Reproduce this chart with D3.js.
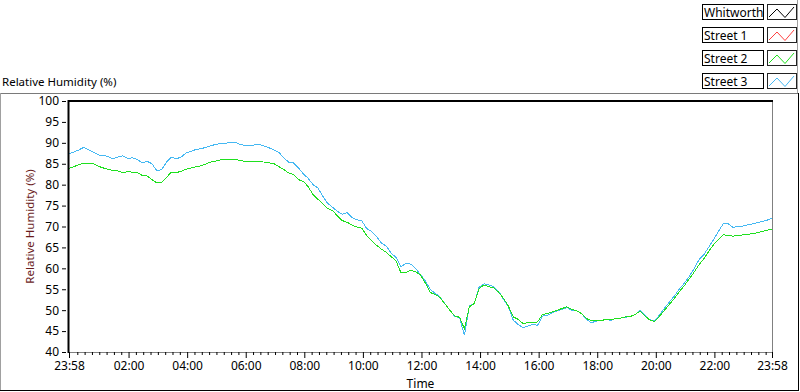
<!DOCTYPE html>
<html>
<head>
<meta charset="utf-8">
<script src="https://cdn.jsdelivr.net/npm/d3@7"></script>
<style>
body{margin:0;background:#fff}
svg text{font-family:"Noto Sans",sans-serif;font-size:12px}
</style>
</head>
<body>
<svg></svg>
<script>
// series shown in the legend (Whitworth and Street 1 have no visible trace)
var seriesNames = ["Whitworth","Street 1","Street 2","Street 3"]
var seriesColors = ["#000000","#ff4040","#1fe01f","#45b8f2"]

// samples every 10 minutes from 23:58 to 23:58 next day
var startTime = new Date(2000,0,1,23,58)
var endTime = new Date(2000,0,2,23,58)
var stepMinutes = 10

var whitworth = []
var street1 = []
var street2 = [
83.9,84.3,84.8,85.1,85.1,85.0,84.4,84.0,83.7,83.4,
83.3,82.9,83.1,83.0,82.9,82.2,82.1,81.2,80.4,80.6,
81.8,83.0,82.9,83.2,83.7,84.0,84.3,84.5,84.9,85.4,
85.6,85.9,85.9,86.0,86.1,85.8,85.6,85.5,85.5,85.5,
85.4,85.2,85.0,84.3,83.6,82.8,82.4,81.2,80.8,79.5,
77.6,76.5,75.4,74.3,73.8,72.5,71.4,71.0,70.3,69.9,
69.6,67.8,66.6,65.5,64.6,63.8,62.8,61.8,58.9,59.0,
59.5,59.2,58.4,56.5,54.2,53.8,53.0,51.5,50.0,48.6,
48.3,45.5,50.8,51.6,55.2,56.0,55.6,55.3,54.3,52.8,
51.0,48.4,47.8,46.8,47.0,47.0,47.2,49.0,49.2,49.6,
50.0,50.4,50.8,50.2,49.8,49.2,48.0,47.5,47.6,47.6,
47.7,47.7,48.0,48.1,48.4,48.5,49.0,49.8,48.6,47.6,
47.3,48.6,50.0,51.4,52.8,54.4,55.8,57.4,59.0,60.8,
62.2,64.0,65.6,66.8,68.0,67.9,67.7,67.8,68.0,68.1,
68.3,68.5,68.8,69.1,69.4]
var street3 = [
87.4,87.8,88.3,88.9,88.3,87.8,87.1,87.0,86.7,86.2,
86.6,86.9,86.3,86.4,86.0,85.2,85.6,85.0,83.3,83.6,
85.4,86.6,86.2,86.6,87.6,88.0,88.4,88.6,88.9,89.3,
89.6,89.8,89.9,90.1,90.2,89.6,89.4,89.4,89.5,89.6,
89.2,88.8,88.3,87.7,86.4,85.4,85.2,84.0,82.6,81.5,
80.0,79.2,77.2,75.5,74.6,73.6,72.9,73.3,72.1,71.6,
71.3,69.5,68.8,67.6,66.0,65.3,63.6,62.6,60.4,61.2,
61.0,60.0,58.5,57.0,55.0,54.0,53.2,51.5,50.0,48.5,
48.2,44.0,51.0,51.5,55.5,56.3,56.0,55.6,54.5,52.6,
50.8,47.6,46.6,45.8,46.2,46.6,46.4,48.6,48.8,49.4,
49.8,50.2,50.6,50.0,49.8,49.2,47.8,47.0,47.4,47.6,
47.7,47.6,48.0,48.1,48.3,48.5,49.0,50.0,48.8,47.7,
47.4,49.0,50.5,52.0,53.4,55.0,56.4,58.0,59.8,62.0,
63.2,65.0,66.8,68.8,70.6,70.7,69.8,70.0,70.1,70.4,
70.6,70.9,71.2,71.5,72.0]

var yTicks = [40,45,50,55,60,65,70,75,80,85,90,95,100]
var xMajorHours = [2,4,6,8,10,12,14,16,18,20,22]

var allSeries = [whitworth,street1,street2,street3]

var screen = {width:800,height:392}
var plot = {left:69,top:101,right:772,bottom:352}

var svg = d3.select("svg")
    .attr("width",screen.width)
    .attr("height",screen.height)

// panel frame
svg.append("line").attr("x1",0).attr("x2",798).attr("y1",93.5).attr("y2",93.5).attr("stroke","#7a7a7a")
svg.append("line").attr("x1",0.5).attr("x2",0.5).attr("y1",93).attr("y2",391).attr("stroke","#a0a0a0")
svg.append("line").attr("x1",798.5).attr("x2",798.5).attr("y1",93).attr("y2",391).attr("stroke","#000")
svg.append("line").attr("x1",0).attr("x2",799).attr("y1",390.5).attr("y2",390.5).attr("stroke","#000")
svg.append("line").attr("x1",797.5).attr("x2",797.5).attr("y1",0).attr("y2",93).attr("stroke","#a0a0a0")

svg.append("text")
    .attr("x",2)
    .attr("y",86)
    .style("font-size","11.5px")
    .text("Relative Humidity (%)")

var width = plot.right - plot.left
var height = plot.bottom - plot.top

var xScale = d3.scaleTime().domain([startTime,endTime]).range([0,width])
var yScale = d3.scaleLinear().domain([40,100]).range([height,0])

var timeOf = function(d,i)
{
    return d3.timeMinute.offset(startTime,i*stepMinutes)
}

// minor ticks every 15 minutes, away from the major ones
var majorDates = [startTime].concat(xMajorHours.map(function(h){ return new Date(2000,0,2,h,0) })).concat([endTime])
var minorDates = d3.timeMinute.every(15).range(startTime,endTime).filter(function(d)
{
    return majorDates.every(function(m){ return Math.abs(m-d) > 5*60000 })
})

var graph = svg.append("g")
    .attr("id","graph")
    .attr("transform","translate("+plot.left+","+plot.top+")")

// plot area borders
graph.append("line").attr("x1",width+0.5).attr("x2",width+0.5).attr("y1",0).attr("y2",height+1).attr("stroke","#808080")
graph.append("line").attr("x1",0).attr("x2",width+1).attr("y1",height+0.5).attr("y2",height+0.5).attr("stroke","#808080")

var lineGenerator = d3.line()
    .x(function(v,i){ return xScale(timeOf(v,i)) })
    .y(function(v){ return yScale(v) })

graph.selectAll("path.series")
    .data(allSeries.map(function(s,i){ return {values:s,color:seriesColors[i]} }).slice().reverse())
    .enter()
    .append("path")
    .attr("class","series")
    .attr("fill","none")
    .attr("stroke",function(d){ return d.color })
    .attr("stroke-width",1)
    .attr("shape-rendering","crispEdges")
    .attr("d",function(d){ return d.values.length ? lineGenerator(d.values) : null })

graph.append("line").attr("x1",-0.5).attr("x2",width+1).attr("y1",0).attr("y2",0).attr("stroke","#000").attr("stroke-width",2)
graph.append("line").attr("x1",-0.5).attr("x2",-0.5).attr("y1",-1).attr("y2",height+1).attr("stroke","#000").attr("stroke-width",2)

// y axis
var yAxis = d3.axisLeft(yScale).tickValues(yTicks).tickSize(4).tickPadding(3)
var yg = svg.append("g")
    .attr("transform","translate("+(plot.left-3)+","+plot.top+")")
    .call(yAxis)
yg.select(".domain").remove()
yg.selectAll("text").style("font-size","12px").style("font-family","'Noto Sans',sans-serif").attr("fill","#000")

// x axis
var xAxis = d3.axisBottom(xScale).tickValues(majorDates).tickFormat(d3.timeFormat("%H:%M")).tickSize(6).tickPadding(3)
var xg = svg.append("g")
    .attr("transform","translate("+plot.left+","+plot.bottom+")")
    .call(xAxis)
xg.select(".domain").remove()
xg.selectAll("text").style("font-size","12px").style("font-family","'Noto Sans',sans-serif").attr("fill","#000")

var xMinor = d3.axisBottom(xScale).tickValues(minorDates).tickFormat("").tickSize(3)
var xm = svg.append("g")
    .attr("transform","translate("+plot.left+","+plot.bottom+")")
    .call(xMinor)
xm.select(".domain").remove()

svg.append("text")
    .attr("x",(plot.left+plot.right)/2)
    .attr("y",388)
    .attr("text-anchor","middle")
    .text("Time")

svg.append("text")
    .attr("transform","translate(34,"+((plot.top+plot.bottom)/2)+") rotate(-90)")
    .attr("text-anchor","middle")
    .attr("fill","#6a1c1c")
    .style("font-size","11.5px")
    .text("Relative Humidity (%)")

// legend
var rows = svg.append("g").selectAll("g")
    .data(seriesNames)
    .enter()
    .append("g")
    .attr("transform",function(d,i){ return "translate(702,"+(4+i*23)+")" })

rows.append("rect").attr("x",0.5).attr("y",0.5).attr("width",61).attr("height",15)
    .attr("fill","#fff").attr("stroke","#000")
rows.append("text").attr("x",2).attr("y",12.5).text(function(d){ return d })
rows.append("rect").attr("x",65.5).attr("y",0.5).attr("width",29).attr("height",15)
    .attr("fill","#fff").attr("stroke","#222")
rows.append("polyline")
    .attr("points","67,13 75,5 83,13.5 92,3")
    .attr("fill","none")
    .attr("stroke",function(d,i){ return seriesColors[i] })
</script>
</body>
</html>
